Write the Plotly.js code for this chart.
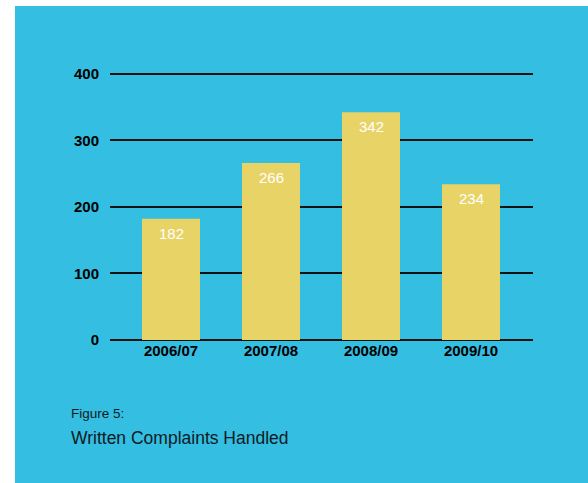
<!DOCTYPE html>
<html>
<head>
<meta charset="utf-8">
<script src="https://cdn.plot.ly/plotly-3.0.1.min.js"></script>
<style>
html,body{margin:0;padding:0;background:#ffffff;}
#chart{position:absolute;left:15px;top:6px;width:573px;height:477px;}
</style>
</head>
<body>
<div id="chart"></div>
<script>
var categories = ["2006/07", "2007/08", "2008/09", "2009/10"];
var complaints = [182, 266, 342, 234];
var yTicks = [0, 100, 200, 300, 400];
var figureLabel = "Figure 5:";
var figureTitle = "Written Complaints Handled";

var FONT = '"Liberation Sans", Arial, sans-serif';

var trace = {
  type: 'bar',
  x: categories,
  y: complaints,
  marker: {color: '#E8D466', line: {width: 0}},
  hoverinfo: 'x+y'
};

var annotations = categories.map(function (c, i) {
  return {
    x: c, y: complaints[i], xref: 'x', yref: 'y',
    text: String(complaints[i]), showarrow: false,
    yanchor: 'top', yshift: -4,
    font: {family: FONT, size: 15, color: '#ffffff'}
  };
});
annotations.push({
  xref: 'paper', yref: 'paper', x: -0.098, y: -0.2726,
  xanchor: 'left', yanchor: 'middle', showarrow: false,
  text: figureLabel, font: {family: FONT, size: 13.5, color: '#111a22'}
});
annotations.push({
  xref: 'paper', yref: 'paper', x: -0.098, y: -0.3635,
  xanchor: 'left', yanchor: 'middle', showarrow: false,
  text: figureTitle, font: {family: FONT, size: 17.5, color: '#111a22'}
});

var layout = {
  width: 573, height: 477,
  margin: {l: 95, r: 55, t: 65, b: 143, pad: 0},
  paper_bgcolor: '#33BEE2',
  plot_bgcolor: '#33BEE2',
  showlegend: false,
  bargap: 0.42,
  xaxis: {
    type: 'category',
    range: [-0.61, 3.62],
    showgrid: false, zeroline: false, showline: false,
    ticks: '', ticklen: 0,
    tickfont: {family: FONT, size: 15, color: '#000000', weight: 'bold'},
    fixedrange: true
  },
  yaxis: {
    range: [0, 404],
    tickvals: yTicks,
    ticktext: yTicks.map(String),
    showgrid: true, gridcolor: '#111111', gridwidth: 2,
    zeroline: true, zerolinecolor: '#111111', zerolinewidth: 2,
    showline: false,
    ticks: 'outside', ticklen: 7, tickcolor: 'rgba(0,0,0,0)',
    tickfont: {family: FONT, size: 15, color: '#000000', weight: 'bold'},
    fixedrange: true
  },
  annotations: annotations
};

Plotly.newPlot('chart', [trace], layout, {displayModeBar: false, staticPlot: true});
</script>
</body>
</html>
